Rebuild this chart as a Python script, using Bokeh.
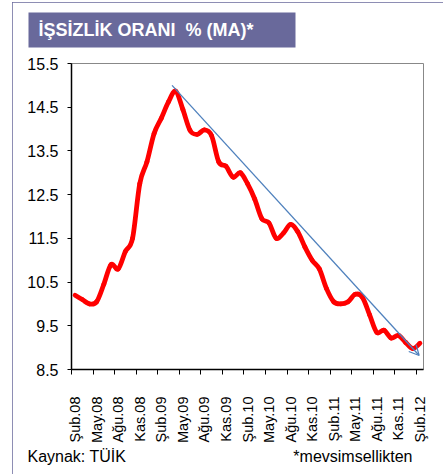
import numpy as np
from bokeh.plotting import figure
from bokeh.models import (Range1d, FixedTicker, Label, Arrow,
                          OpenHead, ColumnDataSource)
from bokeh.embed import file_html
from bokeh.resources import INLINE

# ---------------- data ----------------
month_names = ["Oca", "Şub", "Mar", "Nis", "May", "Haz",
               "Tem", "Ağu", "Eyl", "Eki", "Kas", "Ara"]
months = []
for k in range(49):
    m = (1 + k) % 12
    yr = 8 + (1 + k) // 12
    months.append(f"{month_names[m]}.{yr:02d}")

unemployment = [10.2, 10.1, 10.0, 10.05, 10.45, 10.9, 10.8, 11.2, 11.5,
                12.75, 13.25, 13.9, 14.25, 14.62, 14.87, 14.45, 13.97, 13.88,
                13.98, 13.85, 13.25, 13.15, 12.9, 13.0, 12.75, 12.4, 11.95,
                11.85, 11.5, 11.62, 11.82, 11.65, 11.3, 11.0, 10.8, 10.35,
                10.05, 10.0, 10.05, 10.22, 10.15, 9.75, 9.35, 9.4, 9.22,
                9.28, 9.12, 8.98, 9.1]

tick_idx = list(range(0, 49, 3))
tick_labels = [months[i] for i in tick_idx]
y_ticks = [8.5, 9.5, 10.5, 11.5, 12.5, 13.5, 14.5, 15.5]

trend_x = [13.5, 47.9]
trend_y = [15.0, 8.82]

title_text = "İŞSİZLİK ORANI\u00a0 % (MA)*"
source_text = "Kaynak: TÜİK"
note_text = "*mevsimsellikten"

# ---------------- layout helpers ----------------
OX, OY = 12, 2                         # figure offset on the page
W, H = 443 - OX, 474 - OY
FL, FT, FR, FB = 71, 63, 423, 369      # frame in page pixels
FW, FH = FR - FL, FB - FT
XMIN, XMAX, YMIN, YMAX = -0.5, 48.5, 8.5, 15.5


def px2x(cx):
    return XMIN + (cx - FL) * (XMAX - XMIN) / FW


def px2y(cy):
    return YMAX - (cy - FT) * (YMAX - YMIN) / FH


PURPLE = "#69699B"
FONT = "Liberation Sans"

p = figure(width=W, height=H, output_backend="svg", toolbar_location=None,
           x_range=Range1d(XMIN, XMAX), y_range=Range1d(YMIN, YMAX),
           min_border_left=FL - OX, min_border_right=443 - FR,
           min_border_top=FT - OY, min_border_bottom=474 - FB)
p.styles = {"margin-left": f"{OX}px", "margin-top": f"{OY}px",
            "outline": f"4px solid {PURPLE}", "outline-offset": "-4px"}
p.xgrid.visible = False
p.ygrid.visible = False
p.outline_line_color = "#888888"
p.outline_line_width = 1
p.background_fill_color = "white"
p.border_fill_color = "white"

# smoothed red line as bezier segments (Catmull-Rom style, like Excel)
xs = np.arange(len(unemployment), dtype=float)
ys = np.array(unemployment, dtype=float)
n = len(xs)
i0 = np.arange(n - 1)
im = np.maximum(i0 - 1, 0)
ip = i0 + 1
ip2 = np.minimum(i0 + 2, n - 1)
src = ColumnDataSource(dict(
    x0=xs[i0], y0=ys[i0], x1=xs[ip], y1=ys[ip],
    cx0=xs[i0] + (xs[ip] - xs[im]) / 6, cy0=ys[i0] + (ys[ip] - ys[im]) / 6,
    cx1=xs[ip] - (xs[ip2] - xs[i0]) / 6, cy1=ys[ip] - (ys[ip2] - ys[i0]) / 6,
))
p.bezier(x0="x0", y0="y0", x1="x1", y1="y1", cx0="cx0", cy0="cy0",
         cx1="cx1", cy1="cy1", source=src, line_color="#FF0000",
         line_width=4.8, line_cap="round", line_join="round")

# trend arrow
p.add_layout(Arrow(end=OpenHead(size=10, line_color="#4F81BD", line_width=1.2),
                   x_start=trend_x[0], y_start=trend_y[0],
                   x_end=trend_x[1], y_end=trend_y[1],
                   line_color="#4F81BD", line_width=1.3))

# axes
xa = p.xaxis[0]
xa.ticker = FixedTicker(ticks=tick_idx, minor_ticks=[i - 0.5 for i in tick_idx])
xa.major_label_overrides = {i: lab for i, lab in zip(tick_idx, tick_labels)}
xa.major_label_orientation = np.pi / 2
xa.major_tick_out = 0
xa.major_tick_in = 0
xa.minor_tick_out = 5
xa.minor_tick_in = 0
xa.minor_tick_line_color = "black"
xa.axis_line_color = "black"
xa.axis_line_width = 1.5
xa.major_label_standoff = 22
xa.major_label_text_font = FONT
xa.major_label_text_font_size = "14.5px"
xa.major_label_text_color = "black"

ya = p.yaxis[0]
ya.ticker = FixedTicker(ticks=y_ticks)
ya.major_tick_out = 4
ya.major_tick_in = 0
ya.minor_tick_line_color = None
ya.major_tick_line_color = "black"
ya.axis_line_color = "black"
ya.axis_line_width = 1.5
ya.major_label_standoff = 9
ya.major_label_text_font = FONT
ya.major_label_text_font_size = "16px"
ya.major_label_text_color = "black"

# texts outside the frame (side panels so they are not clipped)
p.add_layout(Label(x=px2x(28), y=px2y(29.5), text=title_text,
                   text_color="white", text_font=FONT, text_font_style="bold",
                   text_font_size="18px", text_baseline="middle",
                   background_fill_color=PURPLE, background_fill_alpha=1,
                   padding=dict(left=10, right=42, top=7, bottom=8)), "above")
p.add_layout(Label(x=px2x(412), y=px2y(456), text=note_text,
                   text_color="black", text_font=FONT, text_align="right",
                   text_font_size="16px", text_baseline="middle"), "above")
p.add_layout(Label(x=px2x(27), y=px2y(456), text=source_text,
                   text_color="black", text_font=FONT,
                   text_font_size="16px", text_baseline="middle"), "below")

open("out.html", "w").write(file_html(p, INLINE))
